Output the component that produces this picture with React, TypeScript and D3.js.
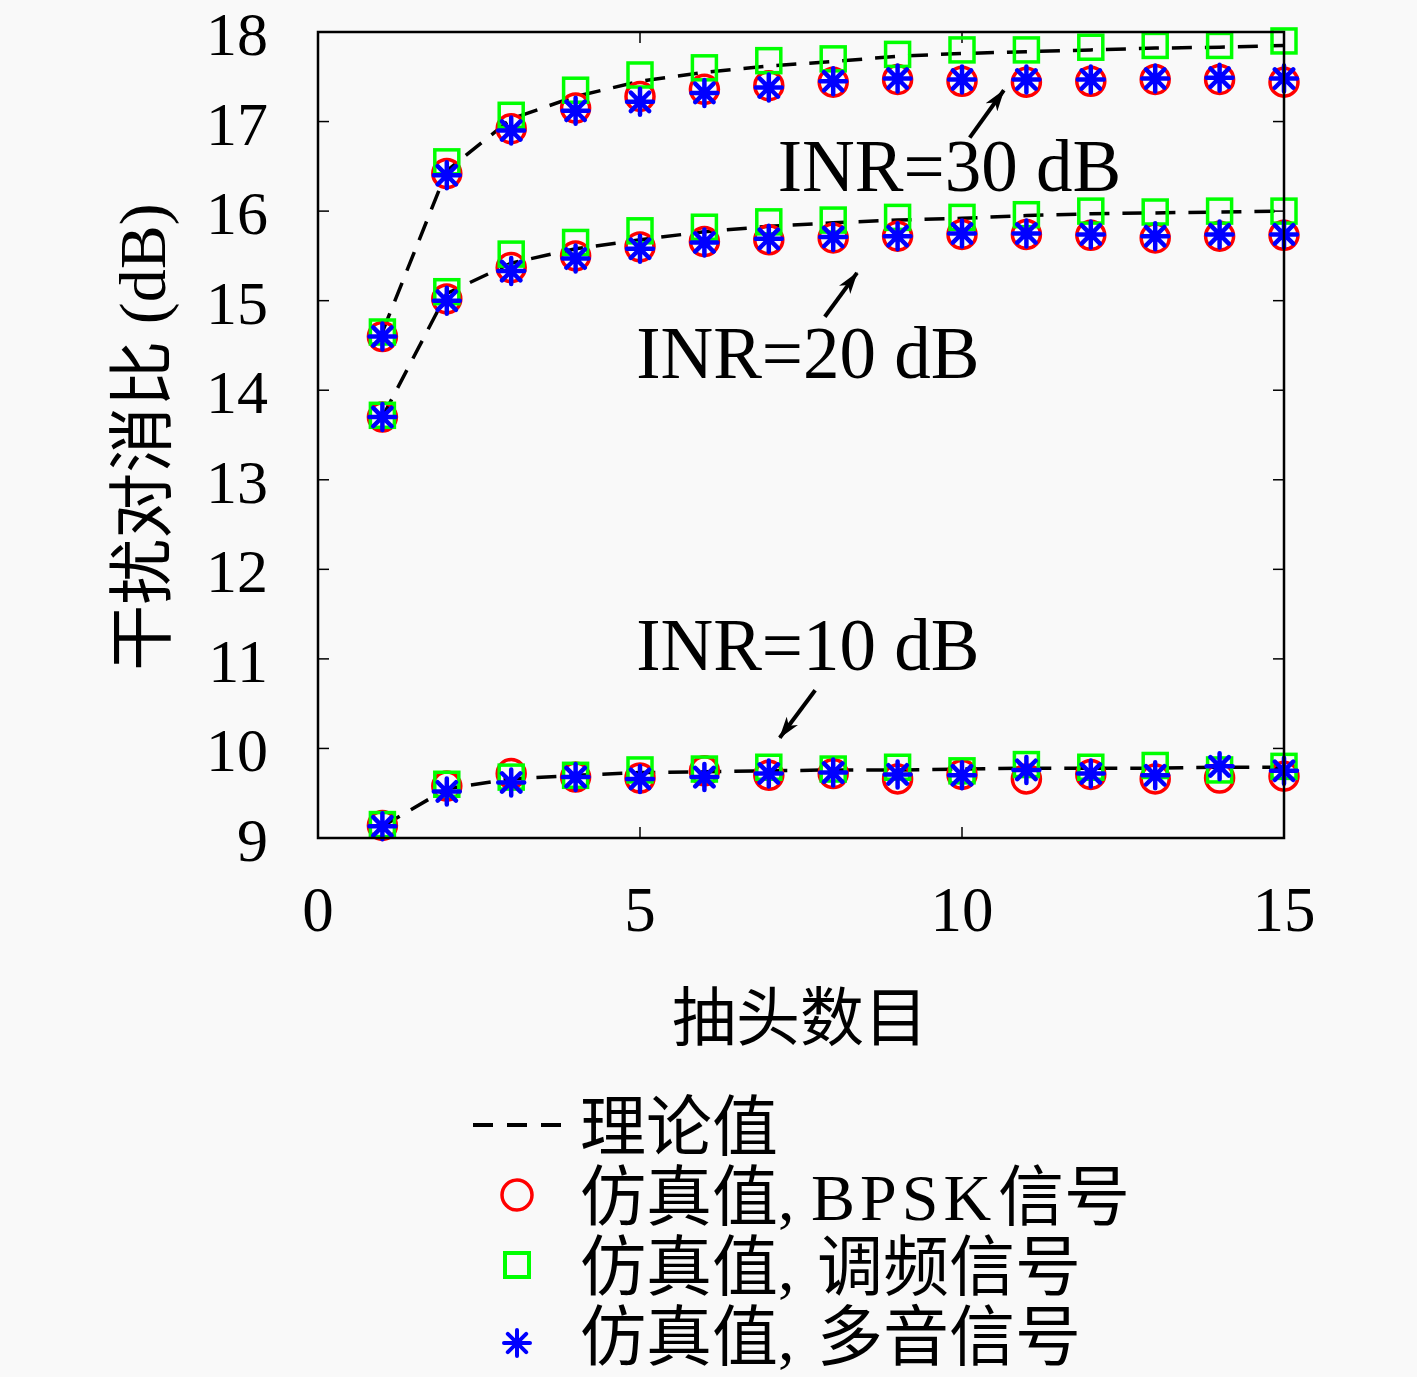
import { useEffect, useRef } from 'react';
import * as d3 from 'd3';

// tap counts on the x axis
const taps = [1, 2, 3, 4, 5, 6, 7, 8, 9, 10, 11, 12, 13, 14, 15];

// theoretical curves (dashed)
const theory10 = [9.13, 9.55, 9.66, 9.7, 9.73, 9.74, 9.75, 9.76, 9.76, 9.77, 9.78, 9.78, 9.78, 9.79, 9.79];
const theory20 = [13.7, 15.08, 15.42, 15.58, 15.68, 15.77, 15.83, 15.87, 15.9, 15.92, 15.95, 15.97, 15.98, 15.99, 16.0];
const theory30 = [14.65, 16.45, 17.03, 17.28, 17.45, 17.55, 17.62, 17.67, 17.73, 17.76, 17.78, 17.8, 17.82, 17.83, 17.85];

// simulated, BPSK (red circles)
const bpsk10 = [9.14, 9.58, 9.72, 9.68, 9.67, 9.75, 9.7, 9.72, 9.66, 9.71, 9.66, 9.71, 9.66, 9.67, 9.69];
const bpsk20 = [13.7, 15.02, 15.37, 15.5, 15.6, 15.66, 15.68, 15.7, 15.72, 15.74, 15.74, 15.73, 15.7, 15.72, 15.73];
const bpsk30 = [14.6, 16.42, 16.92, 17.15, 17.28, 17.36, 17.4, 17.44, 17.47, 17.45, 17.44, 17.45, 17.47, 17.47, 17.44];

// simulated, FM (green squares)
const fm10 = [9.15, 9.6, 9.68, 9.7, 9.76, 9.77, 9.79, 9.77, 9.79, 9.75, 9.82, 9.79, 9.81, 9.76, 9.8];
const fm20 = [13.72, 15.1, 15.52, 15.65, 15.78, 15.82, 15.88, 15.9, 15.93, 15.93, 15.96, 16.0, 15.99, 16.0, 16.0];
const fm30 = [14.65, 16.55, 17.07, 17.35, 17.52, 17.6, 17.68, 17.7, 17.75, 17.8, 17.8, 17.83, 17.85, 17.85, 17.9];

// simulated, multi-tone (blue stars)
const tone10 = [9.13, 9.52, 9.62, 9.68, 9.66, 9.68, 9.72, 9.73, 9.71, 9.7, 9.76, 9.72, 9.7, 9.8, 9.75];
const tone20 = [13.7, 15.0, 15.33, 15.47, 15.58, 15.65, 15.69, 15.71, 15.72, 15.75, 15.75, 15.74, 15.72, 15.74, 15.74];
const tone30 = [14.6, 16.4, 16.9, 17.12, 17.22, 17.32, 17.38, 17.45, 17.48, 17.47, 17.47, 17.47, 17.48, 17.49, 17.48];

const xTicks = [0, 5, 10, 15];
const yTicks = [9, 10, 11, 12, 13, 14, 15, 16, 17, 18];

// annotation labels and arrows, in data units
const notes = [
  { text: 'INR=30 dB', x: 7.14, y: 16.22, from: [10.12, 16.82], to: [10.65, 17.35] },
  { text: 'INR=20 dB', x: 4.94, y: 14.14, from: [7.87, 14.82], to: [8.37, 15.31] },
  { text: 'INR=10 dB', x: 4.94, y: 10.88, from: [7.72, 10.65], to: [7.17, 10.12] },
];

// legend labels: [CJK head, latin part, CJK tail]
const legendLabels = [
  ['理论值', '', ''],
  ['仿真值, ', 'BPSK', '信号'],
  ['仿真值, ', '', '调频信号'],
  ['仿真值, ', '', '多音信号'],
];

const W = 1417;
const H = 1377;
const margin = { top: 32, right: 133, bottom: 539, left: 318 };
const FONT = "'Liberation Serif', 'Noto Sans CJK SC', serif";

const starPath = (r: number) => {
  const d = r * Math.SQRT1_2;
  return `M${-r},0L${r},0M0,${-r}L0,${r}M${-d},${-d}L${d},${d}M${-d},${d}L${d},${-d}`;
};

export default function App() {
  const ref = useRef<SVGSVGElement>(null);

  useEffect(() => {
    const svg = d3.select(ref.current);
    svg.selectAll('*').remove();

    const iw = W - margin.left - margin.right;
    const ih = H - margin.top - margin.bottom;

    svg.append('rect').attr('width', W).attr('height', H).attr('fill', '#f9f9f9');

    const g = svg.append('g').attr('transform', `translate(${margin.left},${margin.top})`);

    const x = d3.scaleLinear().domain([0, 15]).range([0, iw]);
    const y = d3.scaleLinear().domain([9, 18]).range([ih, 0]);

    // inner ticks on all four sides
    const tl = 11;
    yTicks.slice(1, -1).forEach(t => {
      g.append('line').attr('x1', 0).attr('x2', tl).attr('y1', y(t)).attr('y2', y(t)).attr('stroke', '#000').attr('stroke-width', 1.5);
      g.append('line').attr('x1', iw - tl).attr('x2', iw).attr('y1', y(t)).attr('y2', y(t)).attr('stroke', '#000').attr('stroke-width', 1.5);
    });
    xTicks.slice(1, -1).forEach(t => {
      g.append('line').attr('x1', x(t)).attr('x2', x(t)).attr('y1', ih).attr('y2', ih - tl).attr('stroke', '#000').attr('stroke-width', 1.5);
      g.append('line').attr('x1', x(t)).attr('x2', x(t)).attr('y1', 0).attr('y2', tl).attr('stroke', '#000').attr('stroke-width', 1.5);
    });

    // tick labels
    g.selectAll('.xt')
      .data(xTicks)
      .enter()
      .append('text')
      .attr('x', d => x(d))
      .attr('y', ih + 93)
      .attr('text-anchor', 'middle')
      .style('font-family', FONT)
      .style('font-size', '63px')
      .text(d => d);

    g.selectAll('.yt')
      .data(yTicks)
      .enter()
      .append('text')
      .attr('x', -50)
      .attr('y', d => y(d) + 23)
      .attr('text-anchor', 'end')
      .style('font-family', FONT)
      .style('font-size', '62px')
      .text(d => d);

    // dashed theoretical curves
    const line = d3
      .line<number>()
      .x((_, i) => x(taps[i]))
      .y(d => y(d));

    [theory10, theory20, theory30].forEach(s => {
      g.append('path')
        .attr('d', line(s))
        .attr('fill', 'none')
        .attr('stroke', '#000')
        .attr('stroke-width', 3.5)
        .attr('stroke-dasharray', '20,13');
    });

    // red circles
    [bpsk10, bpsk20, bpsk30].forEach(s => {
      g.append('g')
        .selectAll('circle')
        .data(s)
        .enter()
        .append('circle')
        .attr('cx', (_, i) => x(taps[i]))
        .attr('cy', d => y(d))
        .attr('r', 14)
        .attr('fill', 'none')
        .attr('stroke', '#ff0000')
        .attr('stroke-width', 3.5);
    });

    // green squares
    [fm10, fm20, fm30].forEach(s => {
      g.append('g')
        .selectAll('rect')
        .data(s)
        .enter()
        .append('rect')
        .attr('x', (_, i) => x(taps[i]) - 12)
        .attr('y', d => y(d) - 12)
        .attr('width', 24)
        .attr('height', 24)
        .attr('fill', 'none')
        .attr('stroke', '#00ff00')
        .attr('stroke-width', 3.5);
    });

    // blue stars
    [tone10, tone20, tone30].forEach(s => {
      g.append('g')
        .selectAll('path')
        .data(s)
        .enter()
        .append('path')
        .attr('transform', (d, i) => `translate(${x(taps[i])},${y(d)})`)
        .attr('d', starPath(13))
        .attr('fill', 'none')
        .attr('stroke', '#0000ff')
        .attr('stroke-width', 4.5)
        .attr('stroke-linecap', 'round');
    });

    // frame
    g.append('rect')
      .attr('width', iw)
      .attr('height', ih)
      .attr('fill', 'none')
      .attr('stroke', '#000')
      .attr('stroke-width', 2.5);

    // annotations
    svg
      .append('defs')
      .append('marker')
      .attr('id', 'ah')
      .attr('viewBox', '0 0 22 14')
      .attr('refX', 21)
      .attr('refY', 7)
      .attr('markerWidth', 22)
      .attr('markerHeight', 14)
      .attr('markerUnits', 'userSpaceOnUse')
      .attr('orient', 'auto')
      .append('path')
      .attr('d', 'M0,0L22,7L0,14L6,7Z')
      .attr('fill', '#000');

    notes.forEach(n => {
      g.append('text')
        .attr('x', x(n.x))
        .attr('y', y(n.y))
        .style('font-family', FONT)
        .style('font-size', '73px')
        .text(n.text);
      g.append('line')
        .attr('x1', x(n.from[0]))
        .attr('y1', y(n.from[1]))
        .attr('x2', x(n.to[0]))
        .attr('y2', y(n.to[1]))
        .attr('stroke', '#000')
        .attr('stroke-width', 4)
        .attr('marker-end', 'url(#ah)');
    });

    // axis titles
    svg
      .append('text')
      .attr('transform', `translate(165,437) rotate(-90)`)
      .attr('text-anchor', 'middle')
      .style('font-family', FONT)
      .style('font-size', '66px')
      .text('干扰对消比 (dB)');

    svg
      .append('text')
      .attr('x', 800)
      .attr('y', 1040)
      .attr('text-anchor', 'middle')
      .style('font-family', FONT)
      .style('font-size', '64px')
      .text('抽头数目');

    // legend
    const lg = svg.append('g').attr('transform', 'translate(0,1125)');
    const rowH = 70;
    lg.append('line')
      .attr('x1', 473)
      .attr('x2', 565)
      .attr('y1', 0)
      .attr('y2', 0)
      .attr('stroke', '#000')
      .attr('stroke-width', 4)
      .attr('stroke-dasharray', '20,14');
    lg.append('circle')
      .attr('cx', 517)
      .attr('cy', rowH)
      .attr('r', 15)
      .attr('fill', 'none')
      .attr('stroke', '#ff0000')
      .attr('stroke-width', 3.5);
    lg.append('rect')
      .attr('x', 505)
      .attr('y', rowH * 2 - 12)
      .attr('width', 24)
      .attr('height', 24)
      .attr('fill', 'none')
      .attr('stroke', '#00ff00')
      .attr('stroke-width', 4);
    lg.append('path')
      .attr('transform', `translate(517,${rowH * 3 + 8})`)
      .attr('d', starPath(13))
      .attr('fill', 'none')
      .attr('stroke', '#0000ff')
      .attr('stroke-width', 4)
      .attr('stroke-linecap', 'round');
    legendLabels.forEach((parts, i) => {
      const t = lg
        .append('text')
        .attr('x', 580)
        .attr('y', i * rowH + 25)
        .style('font-family', FONT)
        .style('font-size', '66px');
      t.append('tspan').text(parts[0]);
      if (parts[1]) t.append('tspan').attr('letter-spacing', '5px').text(parts[1]);
      if (parts[2]) t.append('tspan').attr('dx', parts[1] ? 2 : 6).text(parts[2]);
    });
  }, []);

  return (
    <div style={{ position: 'absolute', top: 0, left: 0 }}>
      <svg ref={ref} width={W} height={H} />
    </div>
  );
}
